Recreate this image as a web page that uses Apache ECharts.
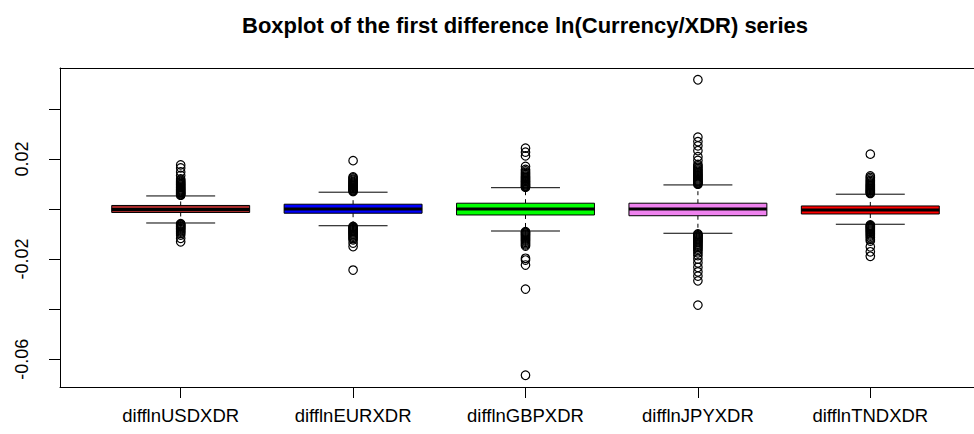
<!DOCTYPE html>
<html>
<head>
<meta charset="utf-8">
<title>Boxplot of the first difference ln(Currency/XDR) series</title>
<script src="https://cdn.jsdelivr.net/npm/echarts@6/dist/echarts.min.js"></script>
<style>
  html, body { margin: 0; padding: 0; background: #fff; overflow: hidden; }
  #chart { width: 974px; height: 434px; }
</style>
</head>
<body>
<div id="chart"></div>
<script>
// Series names shown under each box
const categories = ['difflnUSDXDR', 'difflnEURXDR', 'difflnGBPXDR', 'difflnJPYXDR', 'difflnTNDXDR'];

// Five-number summaries: [lower whisker, Q1, median, Q3, upper whisker]
const usdStats = [-0.0056, -0.0014, -0.0002, 0.0014, 0.0052];
const eurStats = [-0.0067, -0.0017, 0.0000, 0.0019, 0.0067];
const gbpStats = [-0.0088, -0.0024, 0.0000, 0.0023, 0.0085];
const jpyStats = [-0.0097, -0.0027, 0.0000, 0.0023, 0.0096];
const tndStats = [-0.0061, -0.0020, -0.0004, 0.0012, 0.0059];

// Observations beyond the whiskers
const usdOutliers = [
  0.0055, 0.0058, 0.0061, 0.0064, 0.0067, 0.0070, 0.0074, 0.0077, 0.0080, 0.0084,
  0.0087, 0.0091, 0.0095, 0.0098, 0.0102, 0.0106, 0.0110, 0.0115, 0.0120, 0.0134,
  0.0148, 0.0164, 0.0176,
  -0.0059, -0.0062, -0.0065, -0.0069, -0.0072, -0.0076, -0.0079, -0.0083, -0.0088,
  -0.0092, -0.0097, -0.0104, -0.0117, -0.0131
];
const eurOutliers = [
  0.0070, 0.0073, 0.0076, 0.0080, 0.0083, 0.0087, 0.0091, 0.0094, 0.0098, 0.0102,
  0.0106, 0.0110, 0.0115, 0.0119, 0.0124, 0.0128, 0.0193,
  -0.0070, -0.0073, -0.0076, -0.0079, -0.0083, -0.0087, -0.0091, -0.0095, -0.0099,
  -0.0103, -0.0108, -0.0113, -0.0118, -0.0123, -0.0136, -0.0150, -0.0244
];
const gbpOutliers = [
  0.0087, 0.0090, 0.0093, 0.0097, 0.0100, 0.0104, 0.0108, 0.0111, 0.0115, 0.0119,
  0.0123, 0.0127, 0.0131, 0.0136, 0.0141, 0.0146, 0.0152, 0.0158, 0.0170, 0.0212,
  0.0227, 0.0243,
  -0.0091, -0.0094, -0.0097, -0.0101, -0.0104, -0.0108, -0.0112, -0.0116, -0.0120,
  -0.0124, -0.0128, -0.0133, -0.0138, -0.0143, -0.0148, -0.0197, -0.0204, -0.0224,
  -0.0320, -0.0664
];
const jpyOutliers = [
  0.0099, 0.0102, 0.0105, 0.0109, 0.0112, 0.0116, 0.0120, 0.0124, 0.0128, 0.0132,
  0.0136, 0.0140, 0.0145, 0.0150, 0.0155, 0.0160, 0.0166, 0.0172, 0.0178, 0.0194,
  0.0209, 0.0233, 0.0252, 0.0269, 0.0287, 0.0516,
  -0.0100, -0.0103, -0.0107, -0.0110, -0.0114, -0.0118, -0.0122, -0.0126, -0.0130,
  -0.0134, -0.0139, -0.0144, -0.0149, -0.0154, -0.0160, -0.0166, -0.0175, -0.0186,
  -0.0200, -0.0215, -0.0233, -0.0251, -0.0268, -0.0287, -0.0384
];
const tndOutliers = [
  0.0062, 0.0065, 0.0068, 0.0072, 0.0075, 0.0079, 0.0083, 0.0087, 0.0091, 0.0095,
  0.0099, 0.0104, 0.0109, 0.0114, 0.0120, 0.0126, 0.0132, 0.0219,
  -0.0064, -0.0067, -0.0070, -0.0074, -0.0077, -0.0081, -0.0085, -0.0089, -0.0093,
  -0.0098, -0.0103, -0.0108, -0.0114, -0.0121, -0.0128, -0.0151, -0.0171, -0.0189
];

// Y axis ticks and the subset that carries a label
const yTickValues = [-0.06, -0.04, -0.02, 0, 0.02, 0.04];
const yLabelValues = [-0.06, -0.02, 0.02];
const yRange = [-0.0711, 0.0563];
const xRange = [0.3, 5.7];

const boxFill = ['#A52A2A', '#0000FF', '#00FF00', '#EE82EE', '#FF0000'];
const FONT = '"Liberation Sans", Arial, Helvetica, sans-serif';

const allStats = [usdStats, eurStats, gbpStats, jpyStats, tndStats];
const allOutliers = [usdOutliers, eurOutliers, gbpOutliers, jpyOutliers, tndOutliers];
const positions = categories.map((_, i) => i + 1);

const boxData = allStats.map((s, i) => [positions[i]].concat(s));
const outlierData = [];
allOutliers.forEach((list, i) => list.forEach(v => outlierData.push([positions[i], v])));

// Box, dashed whiskers, staples and a heavy median bar
function renderBox(params, api) {
  const x = api.value(0);
  const lo = api.coord([x, api.value(1)]);
  const q1 = api.coord([x, api.value(2)]);
  const md = api.coord([x, api.value(3)]);
  const q3 = api.coord([x, api.value(4)]);
  const hi = api.coord([x, api.value(5)]);
  const boxW = api.size([0.8, 0])[0];
  const capHalf = boxW / 4;
  const cx = md[0];
  const thin = { stroke: '#000', lineWidth: 1 };
  return {
    type: 'group',
    children: [
      { type: 'line', shape: { x1: cx, y1: q3[1], x2: cx, y2: hi[1] },
        style: { stroke: '#000', lineWidth: 1, lineDash: [4, 4] } },
      { type: 'line', shape: { x1: cx, y1: q1[1], x2: cx, y2: lo[1] },
        style: { stroke: '#000', lineWidth: 1, lineDash: [4, 4] } },
      { type: 'line', shape: { x1: cx - capHalf, y1: hi[1], x2: cx + capHalf, y2: hi[1] }, style: thin },
      { type: 'line', shape: { x1: cx - capHalf, y1: lo[1], x2: cx + capHalf, y2: lo[1] }, style: thin },
      { type: 'rect', shape: { x: cx - boxW / 2, y: q3[1], width: boxW, height: q1[1] - q3[1] },
        style: { fill: boxFill[params.dataIndex], stroke: '#000', lineWidth: 1 } },
      { type: 'line', shape: { x1: cx - boxW / 2, y1: md[1], x2: cx + boxW / 2, y2: md[1] },
        style: { stroke: '#000', lineWidth: 3 } }
    ]
  };
}

const frameLine = { show: true, onZero: false, lineStyle: { color: '#000', width: 1 } };

const chart = echarts.init(document.getElementById('chart'), null, { renderer: 'svg' });
chart.setOption({
  animation: false,
  backgroundColor: '#fff',
  textStyle: { fontFamily: FONT },
  graphic: [{
    type: 'text',
    x: 525, y: 25,
    style: {
      text: 'Boxplot of the first difference ln(Currency/XDR) series',
      font: 'bold 22px ' + FONT,
      fill: '#000',
      textAlign: 'center',
      textVerticalAlign: 'middle'
    }
  }],
  grid: {
    left: 60, top: 68, width: 931, height: 319,
    outerBoundsMode: 'none',
    containLabel: false,
    show: false
  },
  xAxis: [{
    type: 'value',
    position: 'bottom',
    min: xRange[0], max: xRange[1],
    axisLine: frameLine,
    splitLine: { show: false },
    axisTick: { show: true, inside: false, length: 11, customValues: positions,
      lineStyle: { color: '#000', width: 1 } },
    axisLabel: {
      customValues: positions,
      formatter: v => categories[Math.round(v) - 1] || '',
      color: '#000', fontSize: 18.5, fontFamily: FONT, margin: 19
    }
  }, {
    type: 'value',
    position: 'top',
    min: xRange[0], max: xRange[1],
    axisLine: frameLine,
    axisTick: { show: false }, axisLabel: { show: false }, splitLine: { show: false }
  }],
  yAxis: [{
    type: 'value',
    position: 'left',
    min: yRange[0], max: yRange[1],
    axisLine: frameLine,
    splitLine: { show: false },
    axisTick: { show: true, length: 11, customValues: yTickValues,
      lineStyle: { color: '#000', width: 1 } },
    axisLabel: {
      customValues: yLabelValues,
      formatter: v => v.toFixed(2),
      rotate: 90,
      color: '#000', fontSize: 18, fontFamily: FONT, margin: 29
    }
  }],
  series: [
    {
      type: 'custom',
      renderItem: renderBox,
      data: boxData,
      encode: { x: 0, y: [1, 2, 3, 4, 5] },
      z: 2
    },
    {
      type: 'scatter',
      data: outlierData,
      symbol: 'circle',
      symbolSize: 8.5,
      itemStyle: { color: 'rgba(0,0,0,0)', borderColor: '#000', borderWidth: 1.2, opacity: 1 },
      z: 3
    }
  ]
});
</script>
</body>
</html>
